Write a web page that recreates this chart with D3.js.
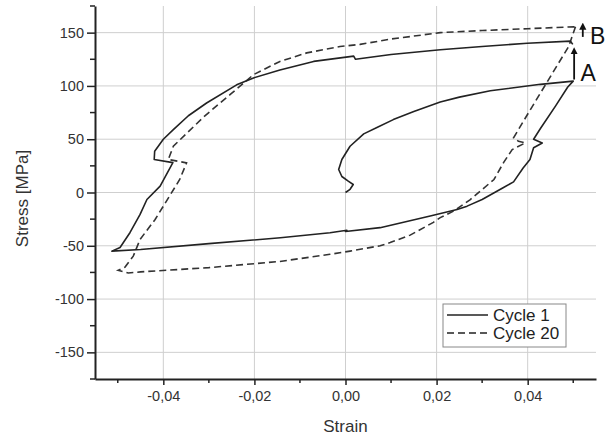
<!DOCTYPE html>
<html>
<head>
<meta charset="utf-8">
<script src="https://cdn.jsdelivr.net/npm/d3@7"></script>
<style>
  body { margin: 0; background: #fff; }
  text { font-family: "Liberation Sans", Arial, sans-serif; }
</style>
</head>
<body>
<div id="chart"></div>
<script>
// cycle 1: initial loading, unloading to compression, reloading
const cycle1 = [
    [0.0, 0], [0.001, 3], [0.0017, 7.5], [0.0006, 10.6], [-0.0008, 15], [-0.0015, 21.6],
    [-0.0008, 31], [0.001, 43.4], [0.004, 55], [0.0069, 61], [0.0105, 68.4], [0.015, 76],
    [0.0208, 85], [0.025, 89.5], [0.0318, 95.5], [0.0428, 101.5], [0.05, 104.5],
    [0.0488, 99], [0.0461, 81], [0.0428, 60], [0.0413, 50], [0.0432, 46.5], [0.0413, 42],
    [0.0405, 31], [0.039, 23], [0.0369, 10], [0.0347, 4.7], [0.03, -6.6], [0.0267, -12.8],
    [0.0245, -16], [0.0186, -22], [0.0076, -33], [0.0, -36.6], [0.0003, -35.5], [-0.0034, -37.8],
    [-0.0143, -42.5], [-0.03, -48], [-0.045, -53.5], [-0.0513, -55],
    [-0.0495, -51.6], [-0.0473, -37.5], [-0.0451, -20.6], [-0.0436, -6.6], [-0.0407, 6],
    [-0.0379, 28], [-0.042, 31], [-0.0419, 38.7], [-0.04, 50], [-0.0378, 59], [-0.0345, 72],
    [-0.0305, 84], [-0.0239, 101], [-0.0202, 107.5], [-0.0144, 115], [-0.007, 123],
    [0.0018, 128], [0.0022, 125], [0.01, 129.5], [0.0208, 134], [0.03, 137], [0.0399, 140],
    [0.0494, 142], [0.0499, 139]
];

// cycle 20: stabilised loop
const cycle20 = [
    [0.0505, 155.6], [0.049, 137], [0.0402, 75], [0.0369, 51.3], [0.038, 48], [0.0395, 46.6],
    [0.0366, 40.3], [0.0347, 28], [0.0326, 12.2], [0.0274, -6.6], [0.0237, -17.5],
    [0.0208, -23.6], [0.0193, -28], [0.0142, -40], [0.0098, -47], [0.0076, -50], [0.001, -55],
    [-0.0034, -58], [-0.0144, -64.7], [-0.03, -70.5], [-0.045, -74.5], [-0.0477, -75.5],
    [-0.0499, -73], [-0.0484, -70], [-0.0466, -59.7], [-0.0451, -44], [-0.0418, -25.3],
    [-0.0364, 12.2], [-0.0349, 27.8], [-0.0389, 31], [-0.0378, 43.4], [-0.031, 71.5],
    [-0.0253, 92], [-0.0202, 110.6], [-0.0144, 123], [-0.0085, 131], [-0.0012, 137],
    [0.0032, 139], [0.01, 144], [0.0208, 150], [0.03, 152], [0.04, 153.7], [0.0505, 155.6]
];

const xMajor = [-0.04, -0.02, 0.0, 0.02, 0.04];
const xMinor = [-0.05, -0.03, -0.01, 0.01, 0.03, 0.05];
const yMajor = [-150, -100, -50, 0, 50, 100, 150];
const yMinor = [-175, -125, -75, -25, 25, 75, 125, 175];
const legendLabels = ["Cycle 1", "Cycle 20"];

// A -> B arrows (strain, stress from, stress to)
const arrows = [[0.0502, 106, 133], [0.0521, 146, 156]];
const markLabels = [["A", 0.0516, 104.5], ["B", 0.0537, 139.5]];

const W = 605, H = 438;
const margin = { top: 6, right: 9, bottom: 59, left: 95 };
const width = W - margin.left - margin.right;
const height = H - margin.top - margin.bottom;

const svg = d3.select("#chart").append("svg")
    .attr("width", W)
    .attr("height", H);

const g = svg.append("g")
    .attr("transform", `translate(${margin.left},${margin.top})`);

const x = d3.scaleLinear().domain([-0.055, 0.055]).range([0, width]);
const y = d3.scaleLinear().domain([-175, 175]).range([height, 0]);

// grid
g.append("g").selectAll("line").data(xMajor).enter().append("line")
    .attr("x1", d => x(d)).attr("x2", d => x(d))
    .attr("y1", 0).attr("y2", height)
    .attr("stroke", "#cfcfcf").attr("stroke-width", 1);
g.append("g").selectAll("line").data(yMajor).enter().append("line")
    .attr("x1", 0).attr("x2", width)
    .attr("y1", d => y(d)).attr("y2", d => y(d))
    .attr("stroke", "#cfcfcf").attr("stroke-width", 1);

// axes
const fmtX = d => d.toFixed(2).replace(".", ",");
const xAxis = g.append("g")
    .attr("transform", `translate(0,${height})`)
    .call(d3.axisBottom(x).tickValues(xMajor).tickFormat(fmtX).tickSizeInner(6).tickSizeOuter(0).tickPadding(6));
const yAxis = g.append("g")
    .call(d3.axisLeft(y).tickValues(yMajor).tickFormat(d => String(d)).tickSizeInner(8).tickSizeOuter(0).tickPadding(3));

[xAxis, yAxis].forEach(a => {
    a.select(".domain").attr("stroke", "#222").attr("stroke-width", 2);
    a.selectAll(".tick line").attr("stroke", "#222").attr("stroke-width", 1.5);
    a.selectAll(".tick text").attr("font-size", 14.5).attr("fill", "#333")
        .attr("font-family", "Liberation Sans, Arial, sans-serif");
});

// minor ticks
g.append("g").selectAll("line").data(xMinor).enter().append("line")
    .attr("x1", d => x(d)).attr("x2", d => x(d))
    .attr("y1", height).attr("y2", height + 4)
    .attr("stroke", "#222").attr("stroke-width", 1.5);
g.append("g").selectAll("line").data(yMinor).enter().append("line")
    .attr("x1", -5).attr("x2", 0)
    .attr("y1", d => y(d)).attr("y2", d => y(d))
    .attr("stroke", "#222").attr("stroke-width", 1.5);

// axis titles
g.append("text")
    .attr("x", x(0))
    .attr("y", height + 53)
    .attr("text-anchor", "middle")
    .attr("font-size", 17)
    .attr("fill", "#333")
    .text("Strain");

g.append("text")
    .attr("transform", `translate(${-67},${y(0) + 6}) rotate(-90)`)
    .attr("text-anchor", "middle")
    .attr("font-size", 17)
    .attr("fill", "#333")
    .text("Stress [MPa]");

// curves
const line = d3.line().x(d => x(d[0])).y(d => y(d[1]));

g.append("path")
    .datum(cycle20)
    .attr("fill", "none")
    .attr("stroke", "#333")
    .attr("stroke-width", 1.6)
    .attr("stroke-dasharray", "7,4")
    .attr("d", line);

g.append("path")
    .datum(cycle1)
    .attr("fill", "none")
    .attr("stroke", "#222")
    .attr("stroke-width", 1.6)
    .attr("stroke-linejoin", "round")
    .attr("d", line);

// arrows A -> B
svg.append("defs").append("marker")
    .attr("id", "head")
    .attr("viewBox", "0 0 10 10")
    .attr("refX", 5).attr("refY", 5)
    .attr("markerWidth", 4).attr("markerHeight", 5)
    .attr("orient", "auto")
    .append("path")
    .attr("d", "M0,0 L10,5 L0,10 Z")
    .attr("fill", "#111");

arrows.forEach(a => {
    g.append("line")
        .attr("x1", x(a[0])).attr("x2", x(a[0]))
        .attr("y1", y(a[1])).attr("y2", y(a[2]))
        .attr("stroke", "#111")
        .attr("stroke-width", 1.8)
        .attr("marker-end", "url(#head)");
});

markLabels.forEach(m => {
    g.append("text")
        .attr("x", x(m[1]))
        .attr("y", y(m[2]))
        .attr("font-size", 23)
        .attr("fill", "#111")
        .text(m[0]);
});

// legend
const legend = svg.append("g").attr("transform", "translate(443,304)");
legend.append("rect")
    .attr("width", 123).attr("height", 43)
    .attr("fill", "#fff")
    .attr("stroke", "#888")
    .attr("stroke-width", 1);

legendLabels.forEach((label, i) => {
    legend.append("line")
        .attr("x1", 4).attr("x2", 45)
        .attr("y1", 11 + i * 18).attr("y2", 11 + i * 18)
        .attr("stroke", "#222")
        .attr("stroke-width", 1.6)
        .attr("stroke-dasharray", i === 0 ? null : "7,4");
    legend.append("text")
        .attr("x", 50)
        .attr("y", 17 + i * 18)
        .attr("font-size", 17)
        .attr("fill", "#222")
        .text(label);
});
</script>
</body>
</html>
